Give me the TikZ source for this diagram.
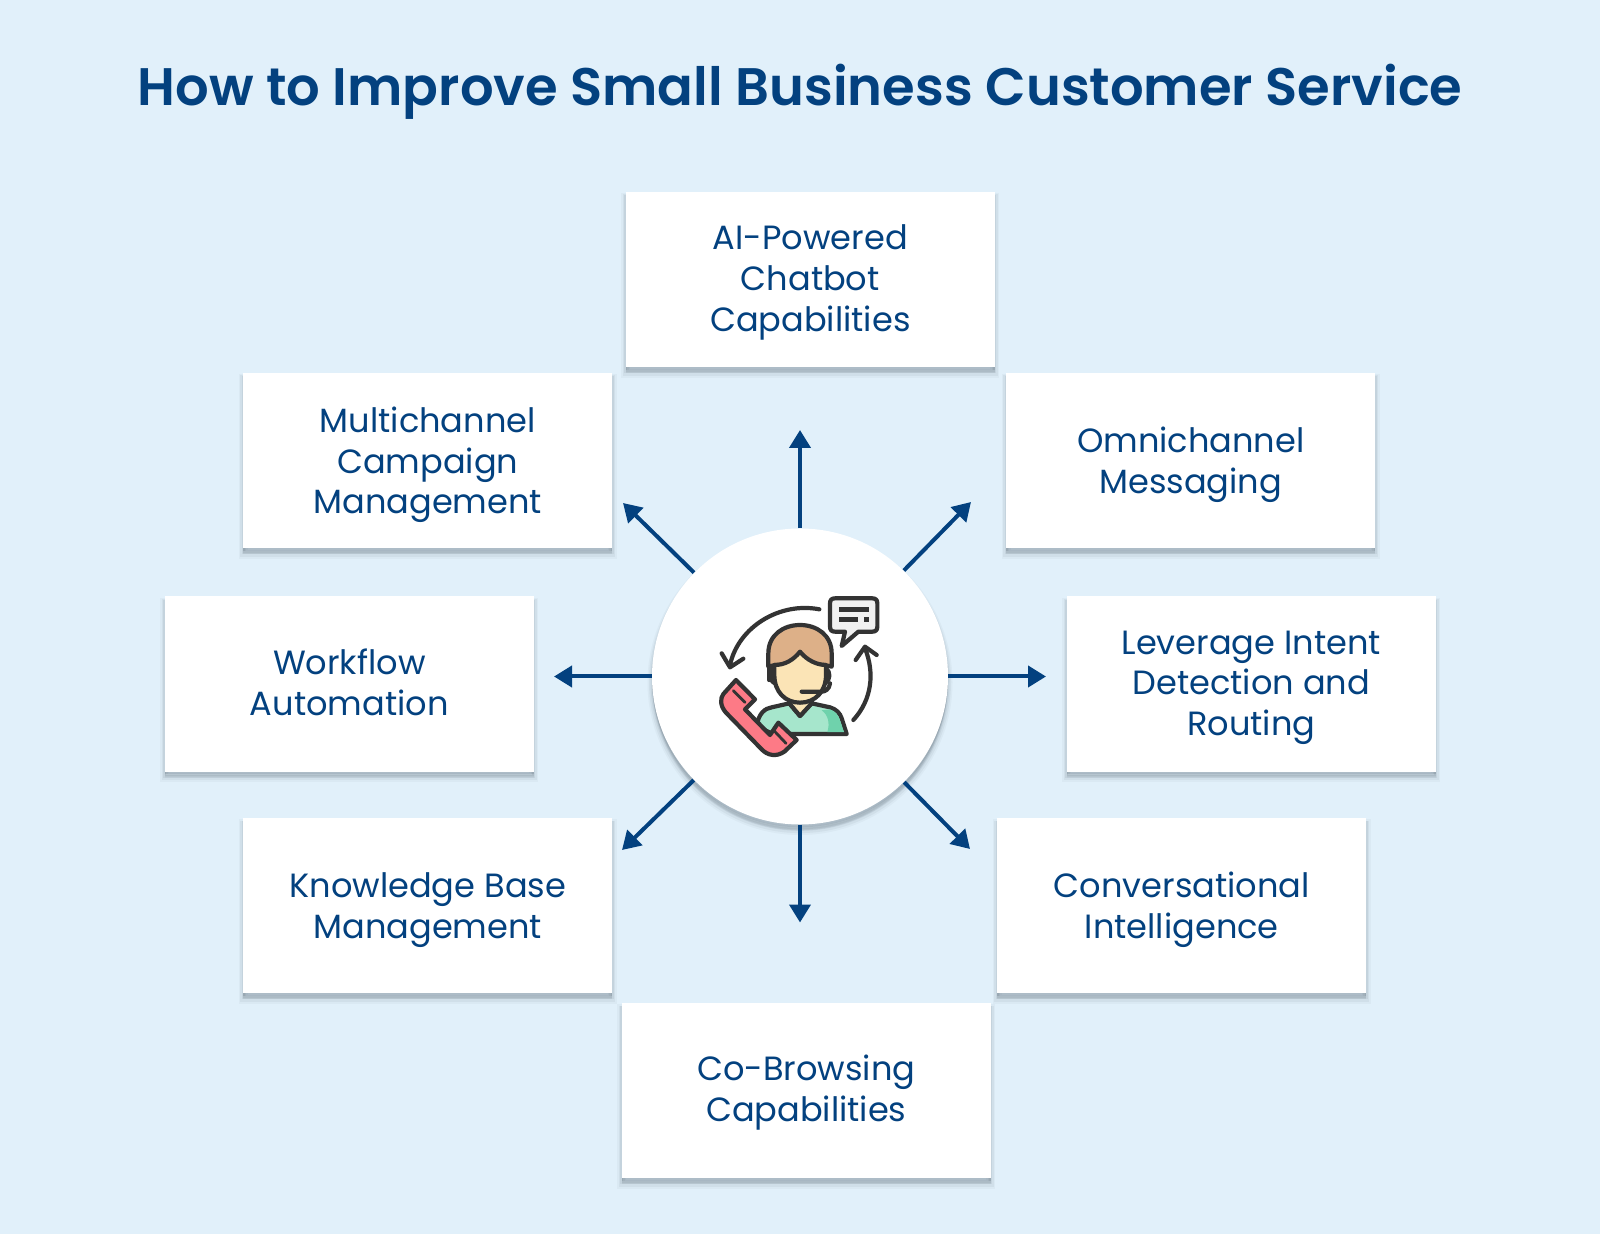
\documentclass[tikz,border=0pt]{standalone}
\usepackage{fontspec}
\setmainfont{Poppins}
\newfontfamily\titlefont{Poppins}[UprightFont=* SemiBold]
\usetikzlibrary{arrows.meta,shadows}
\definecolor{bgc}{HTML}{E1F0FA}
\definecolor{navy}{HTML}{03417F}
\definecolor{shc}{HTML}{3A4A58}
\definecolor{ink}{HTML}{333333}
\definecolor{hairc}{HTML}{DDB088}
\definecolor{skinc}{HTML}{FBE4B6}
\definecolor{shirtc}{HTML}{A6E6CC}
\definecolor{shirtd}{HTML}{6FD2AC}
\definecolor{phonec}{HTML}{FD7A86}
\definecolor{bubc}{HTML}{F1F1F1}
\newcommand{\cardtext}[1]{\rule{0pt}{15.8pt}#1\rule[-5pt]{0pt}{5pt}}
\newcommand{\cardtextlow}[1]{\rule{0pt}{17.6pt}#1\rule[-5pt]{0pt}{5pt}}
\tikzset{
  softshadow/.style={
    copy shadow={shadow xshift=0pt,shadow yshift=-3pt,fill=shc,draw=shc,line width=4.5pt,opacity=.04},
    copy shadow={shadow xshift=0pt,shadow yshift=-2.8pt,fill=shc,draw=shc,line width=3pt,opacity=.06},
    copy shadow={shadow xshift=0pt,shadow yshift=-2.4pt,fill=shc,draw=shc,line width=1.5pt,opacity=.08},
    copy shadow={shadow xshift=0pt,shadow yshift=-1.4pt,fill=shc,draw=none,opacity=.16}},
  cardbox/.style={fill=white,minimum width=184.6pt,minimum height=87.6pt,inner sep=0pt,
    align=center,text=navy,font=\fontsize{16.8}{20.4}\selectfont,softshadow},
  hubdisc/.style={circle,fill=white,minimum size=148pt,inner sep=0pt,softshadow},
  spoke/.style={draw=navy,line width=2pt,-{Triangle[length=9pt,width=10.5pt]}},
  iconline/.style={draw=ink,line width=2.1pt,line join=round,line cap=round}
}
\begin{document}
\begin{tikzpicture}[x=0.5pt,y=-0.5pt]
\path[use as bounding box,fill=bgc] (0,0) rectangle (1600,1234);
\node[anchor=base,text=navy,font=\fontsize{26.4}{30}\titlefont] (title) at (800,105.5) {How to Improve Small Business Customer Service};
\node[cardbox] (ai) at (810.3,279.5) {\cardtext{AI-Powered\\Chatbot\\Capabilities}};
\node[cardbox] (multi) at (427.8,460.5) {\cardtextlow{Multichannel\\Campaign\\Management}};
\node[cardbox] (omni) at (1190.8,460.5) {\cardtextlow{Omnichannel\\Messaging}};
\node[cardbox] (intent) at (1251.3,684) {\cardtext{Leverage Intent\\Detection and\\Routing}};
\node[cardbox] (flow) at (349.3,684) {\cardtext{Workflow\\Automation}};
\node[cardbox] (know) at (427.8,905.5) {\cardtextlow{Knowledge Base\\Management}};
\node[cardbox] (conv) at (1181.8,905.5) {\cardtextlow{Conversational\\Intelligence}};
\node[cardbox] (cobrowse) at (806.3,1090.5) {\cardtext{Co-Browsing\\Capabilities}};
\node[hubdisc] (hub) at (800,676.5) {};
\coordinate (tn) at (800,430);
\coordinate (tne) at (971,502);
\coordinate (te) at (1046,676.5);
\coordinate (tse) at (970,849);
\coordinate (ts) at (800,922.5);
\coordinate (tsw) at (622,850);
\coordinate (tw) at (554,676.5);
\coordinate (tnw) at (623,503);
\foreach \t in {tn,tne,te,tse,ts,tsw,tw,tnw} \draw[spoke] (hub) -- (\t);
\begin{scope}[shift={(690,570)},x=0.166667pt,y=-0.166667pt]
 % arrows
 \draw[iconline] (388,118) .. controls (270,95) and (145,170) .. (120,285);
 \draw[iconline] (95,250) -- (120,292) -- (160,266);
 \draw[iconline] (490,450) .. controls (545,390) and (555,310) .. (525,235);
 \draw[iconline] (497,270) -- (525,230) -- (560,255);
 % bubble
 \draw[iconline,fill=bubc] (435,85) -- (547,85) .. controls (557,85) and (562,90) .. (562,100) -- (562,170) .. controls (562,180) and (557,185) .. (547,185) -- (505,185) -- (455,228) -- (465,185) -- (435,185) .. controls (425,185) and (420,180) .. (420,170) -- (420,100) .. controls (420,90) and (425,85) .. (435,85) -- cycle;
 \draw[draw=ink,line width=2.2pt] (447,118) -- (537,118) (447,148) -- (505,148) (523,148) -- (537,148);
 % shirt
 \draw[iconline,fill=shirtc] (200,470) .. controls (205,430) and (225,415) .. (245,412) -- (298,400) -- (330,438) -- (365,400) -- (420,412) .. controls (440,418) and (450,430) .. (455,445) -- (470,492) -- (250,492) -- cycle;
 \fill[shirtd] (395,421) -- (420,418) .. controls (436,424) and (444,434) .. (449,448) -- (462,486) -- (412,486) .. controls (420,460) and (415,435) .. (395,421) -- cycle;
 \draw[iconline,fill=skinc] (298,385) -- (298,400) -- (330,438) -- (365,400) -- (365,385) -- cycle;
 % ears
 \draw[iconline,fill=skinc] (248,295) .. controls (235,305) and (235,330) .. (255,340) -- cycle;
 \draw[iconline,fill=skinc] (408,295) .. controls (422,305) and (422,330) .. (405,340) -- cycle;
 % hair
 \draw[iconline,fill=hairc] (235,290) -- (235,250) .. controls (235,195) and (280,165) .. (330,165) .. controls (380,165) and (425,195) .. (425,250) -- (425,290) -- (405,285) -- (255,285) -- cycle;
 % face
 \draw[iconline,fill=skinc] (253,285) .. controls (285,285) and (310,270) .. (330,245) .. controls (350,270) and (380,285) .. (408,285) -- (408,315) .. controls (408,365) and (375,398) .. (330,398) .. controls (285,398) and (253,365) .. (253,315) -- cycle;
 % headset
 \draw[iconline] (238,290) -- (238,330);
 \draw[iconline] (420,340) .. controls (418,358) and (405,365) .. (395,365) -- (335,365);
 % phone
 \draw[iconline,fill=phonec] (138,330) -- (195,388) -- (165,418) -- (240,495) -- (265,458) -- (320,510) -- (283,545) .. controls (258,562) and (232,556) .. (215,538) -- (108,428) .. controls (90,408) and (90,385) .. (100,372) -- cycle;
 \draw[draw=ink,line width=1.4pt,line cap=round] (130,362) -- (165,397) (252,482) -- (288,520);
\end{scope}
\end{tikzpicture}
\end{document}
